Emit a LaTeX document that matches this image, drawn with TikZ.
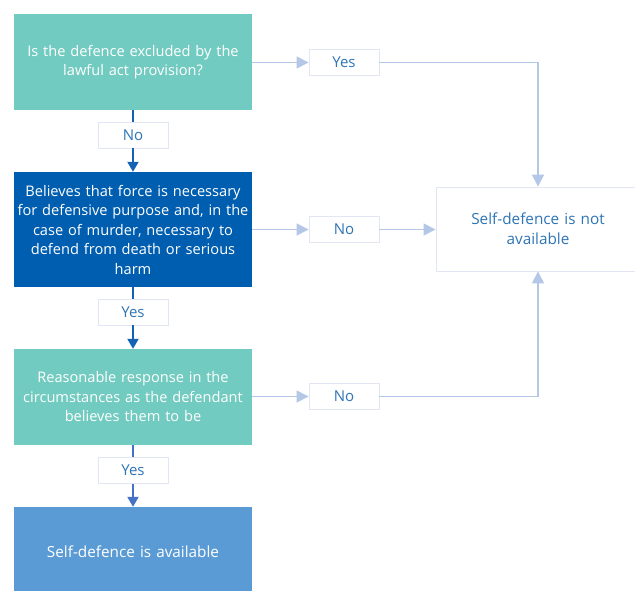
\documentclass[tikz,border=0pt]{standalone}
\usepackage{fontspec}
\setmainfont{Open Sans}
\usetikzlibrary{arrows.meta}
\definecolor{tealbox}{HTML}{72CBC0}
\definecolor{navybox}{HTML}{005EB0}
\definecolor{bluebox}{HTML}{5B9BD5}
\definecolor{paleline}{HTML}{B4C7E7}
\definecolor{labelrule}{HTML}{E2E6F4}
\definecolor{labeltext}{HTML}{2E75B6}
\definecolor{downline}{HTML}{1462B4}
\definecolor{downline2}{HTML}{4472C4}
\tikzset{
  every node/.style={font=\fontsize{14.6}{19.5}\selectfont, inner sep=0pt},
  stepbox/.style={rectangle, minimum width=238pt, text width=234pt, align=center, text=white},
  tag/.style={rectangle, draw=labelrule, line width=0.9pt, fill=white, minimum width=70pt, minimum height=26pt, text=labeltext, font=\fontsize{15}{19}\selectfont},
  sideflow/.style={draw=paleline, line width=1.6pt},
  sidearrow/.style={sideflow, -{Triangle[length=12pt,width=12pt]}},
  downflow/.style={draw=downline, line width=2pt},
  downarrow/.style={downflow, -{Triangle[length=10pt,width=11pt]}},
}
\begin{document}
\begin{tikzpicture}[x=1pt,y=-1pt]
\useasboundingbox (0,0) rectangle (635,590);
\fill[white] (0,0) rectangle (635,590);

% main column
\node[stepbox, fill=tealbox, minimum height=96pt] (q1) at (133,62)
  {Is the defence excluded by the\\lawful act provision?};
\node[stepbox, fill=navybox, minimum height=115pt] (q2) at (133,229.5)
  {Believes that force is necessary\\for defensive purpose and, in the\\case of murder, necessary to\\defend from death or serious\\harm};
\node[stepbox, fill=tealbox, minimum height=96pt] (q3) at (133,397)
  {Reasonable response in the\\circumstances as the defendant\\believes them to be};
\node[stepbox, fill=bluebox, minimum height=90pt, font=\fontsize{15.3}{20}\selectfont] (ok) at (133,552)
  {Self-defence is available};

% outcome on the right
\node[rectangle, draw=labelrule, line width=0.9pt, minimum width=204pt, minimum height=84pt,
      text width=190pt, align=center, text=labeltext, font=\fontsize{15.3}{20}\selectfont] (notok) at (538,229)
  {Self-defence is not\\available};

% answer tags
\node[tag] (n1) at (133,135) {No};
\node[tag] (y2) at (133,312) {Yes};
\node[tag] (y3) at (133,470.5) {Yes};
\node[tag] (y1) at (344,62.5) {Yes};
\node[tag] (n2) at (344,229.5) {No};
\node[tag] (n3) at (344,396.5) {No};

% downward flow
\draw[downflow] (q1.south) -- (n1.north);
\draw[downarrow] (n1.south) -- (q2.north);
\draw[downflow] (q2.south) -- (y2.north);
\draw[downarrow] (y2.south) -- (q3.north);
\draw[downflow, draw=downline2] (q3.south) -- (y3.north);
\draw[downarrow, draw=downline2] (y3.south) -- (ok.north);

% sideways flow
\draw[sidearrow] (q1.east |- y1.west) -- (y1.west);
\draw[sidearrow] (y1.east) -| (notok.north);
\draw[sidearrow] (q2.east |- n2.west) -- (n2.west);
\draw[sidearrow] (n2.east) -- (notok.west |- n2.east);
\draw[sidearrow] (q3.east |- n3.west) -- (n3.west);
\draw[sidearrow] (n3.east) -| (notok.south);
\end{tikzpicture}
\end{document}
